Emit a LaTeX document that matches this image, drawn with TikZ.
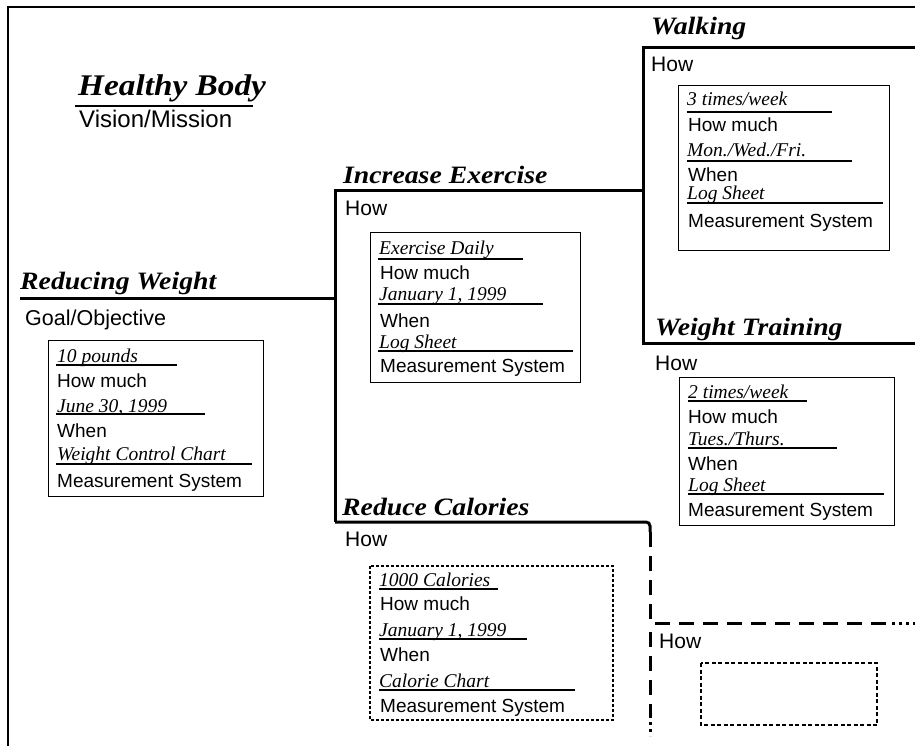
\documentclass[tikz,border=0pt]{standalone}
\usepackage{fontspec}
\setmainfont{Liberation Serif}
\newfontfamily\headfont[FakeStretch=1.11]{Liberation Serif}
\newfontfamily\labfont{Liberation Sans}
\begin{document}
\begin{tikzpicture}[x=1pt,y=-1pt,
  head/.style={anchor=base west, inner sep=0pt, font=\headfont\bfseries\itshape\fontsize{25}{30}\selectfont},
  bighead/.style={anchor=base west, inner sep=0pt, font=\headfont\bfseries\itshape\fontsize{30}{36}\selectfont},
  lab/.style={anchor=base west, inner sep=0pt, font=\labfont\fontsize{19}{23}\selectfont},
  howlab/.style={anchor=base west, inner sep=0pt, font=\labfont\fontsize{21}{25}\selectfont},
  val/.style={anchor=base west, inner sep=0pt, font=\itshape\fontsize{19.5}{23}\selectfont},
  branch/.style={line width=3pt},
  frame/.style={line width=2pt},
  infobox/.style={draw, line width=1pt},
  finebox/.style={draw, line width=1.1pt, dash pattern=on 3pt off 2pt},
  emptybox/.style={draw, line width=1.5pt, dash pattern=on 4pt off 2.5pt},
  uline/.style={line width=1.2pt},
  thickdash/.style={line width=3pt, dash pattern=on 15pt off 9pt},
  dotline/.style={line width=3pt, dash pattern=on 2.5pt off 4.5pt}
]
\useasboundingbox (0,0) rectangle (915,746);

% outer frame
\coordinate (frTR) at (915,7);
\coordinate (frTL) at (8,7);
\coordinate (frBL) at (8,746);
\draw[frame] (frTR) -- (frTL) -- (frBL);

% Vision / Mission
\node[bighead] (hb) at (78,96) {Healthy Body};
\coordinate (hbU1) at (75,106);
\coordinate (hbU2) at (253,106);
\draw[line width=1.6pt] (hbU1) -- (hbU2);
\node[howlab, font=\labfont\fontsize{24}{28}\selectfont] (vm) at (79,128) {Vision/Mission};

% Goal
\node[head] (rw) at (20,289) {Reducing Weight};
\node[howlab, font=\labfont\fontsize{21.5}{26}\selectfont] (go) at (25,325) {Goal/Objective};

% tree coordinates
\coordinate (rwL) at (20,298);
\coordinate (rwR) at (335,298);
\coordinate (spTop) at (335,191);
\coordinate (spBot) at (335,522);
\coordinate (ieR) at (643,191);
\coordinate (wkTop) at (643,48);
\coordinate (wtBot) at (643,343);
\coordinate (wkR) at (915,48);
\coordinate (wtR) at (915,343);
\coordinate (rcC) at (650,522);
\coordinate (rcD) at (650,532);
\coordinate (dsC) at (650,623);
\coordinate (dsR) at (886,623);
\coordinate (dtR1) at (892,623);
\coordinate (dtR2) at (915,623);
\coordinate (dvT) at (650,632);
\coordinate (dvB) at (650,718);
\coordinate (dtV1) at (650,722);
\coordinate (dtV2) at (650,736);

\draw[branch] (rwL) -- (rwR);
\draw[branch] (ieR) -- (spTop) -- (spBot);
\draw[branch, rounded corners=4pt] (spBot) -- (rcC) -- (rcD);
\draw[branch] (wkR) -- (wkTop) -- (wtBot) -- (wtR);
\draw[thickdash] (rcD) -- (dsC) -- (dsR);
\draw[dotline] (dtR1) -- (dtR2);
\draw[thickdash] (dvT) -- (dvB);
\draw[dotline] (dtV1) -- (dtV2);

% Box 1 : Reducing Weight
\draw[infobox] (48,340) rectangle (263,496);
\node[val] (v11) at (57,362) {10 pounds};
\draw[uline] (56,365) -- (177,365);
\node[lab] (l11) at (57,387) {How much};
\node[val] (v12) at (57,412) {June 30, 1999};
\draw[uline] (56,414) -- (205,414);
\node[lab] (l12) at (57,437) {When};
\node[val] (v13) at (57,460) {Weight Control Chart};
\draw[uline] (56,464) -- (252,464);
\node[lab] (l13) at (57,487) {Measurement System};

% Increase Exercise
\node[head] (ie) at (343,183) {Increase Exercise};
\node[howlab] (ieh) at (345,215) {How};
\draw[infobox] (370,232) rectangle (580,382);
\node[val] (v21) at (379,254) {Exercise Daily};
\draw[uline] (378,259) -- (523,259);
\node[lab] (l21) at (380,279) {How much};
\node[val] (v22) at (379,300) {January 1, 1999};
\draw[uline] (378,304) -- (543,304);
\node[lab] (l22) at (380,327) {When};
\node[val] (v23) at (379,348) {Log Sheet};
\draw[uline] (378,351) -- (573,351);
\node[lab] (l23) at (380,372) {Measurement System};

% Walking
\node[head] (wk) at (651,35) {Walking};
\node[howlab] (wkh) at (651,72) {How};
\draw[infobox] (678,86) rectangle (889,250);
\node[val] (v31) at (687,106) {3 times/week};
\draw[uline] (687,112) -- (832,112);
\node[lab] (l31) at (688,132) {How much};
\node[val] (v32) at (687,157) {Mon./Wed./Fri.};
\draw[uline] (687,161) -- (852,161);
\node[lab] (l32) at (688,182) {When};
\node[val] (v33) at (687,200) {Log Sheet};
\draw[uline] (687,203) -- (883,203);
\node[lab] (l33) at (688,227) {Measurement System};

% Weight Training
\node[head] (wt) at (655,335) {Weight Training};
\node[howlab] (wth) at (655,370) {How};
\draw[infobox] (679,377) rectangle (894,525);
\node[val] (v41) at (688,398) {2 times/week};
\draw[uline] (688,401) -- (807,401);
\node[lab] (l41) at (688,423) {How much};
\node[val] (v42) at (688,445) {Tues./Thurs.};
\draw[uline] (688,448) -- (837,448);
\node[lab] (l42) at (688,470) {When};
\node[val] (v43) at (688,491) {Log Sheet};
\draw[uline] (688,494) -- (884,494);
\node[lab] (l43) at (688,516) {Measurement System};

% Reduce Calories
\node[head] (rc) at (342,515) {Reduce Calories};
\node[howlab] (rch) at (345,546) {How};
\draw[finebox] (370,566) rectangle (613,720);
\node[val] (v51) at (379,586) {1000 Calories};
\draw[uline] (379,589) -- (498,589);
\node[lab] (l51) at (380,610) {How much};
\node[val] (v52) at (379,636) {January 1, 1999};
\draw[uline] (379,639) -- (527,639);
\node[lab] (l52) at (380,661) {When};
\node[val] (v53) at (379,687) {Calorie Chart};
\draw[uline] (379,690) -- (575,690);
\node[lab] (l53) at (380,712) {Measurement System};

% open branch
\node[howlab] (nh) at (659,648) {How};
\draw[emptybox] (701,663) rectangle (877,725);
\end{tikzpicture}
\end{document}
